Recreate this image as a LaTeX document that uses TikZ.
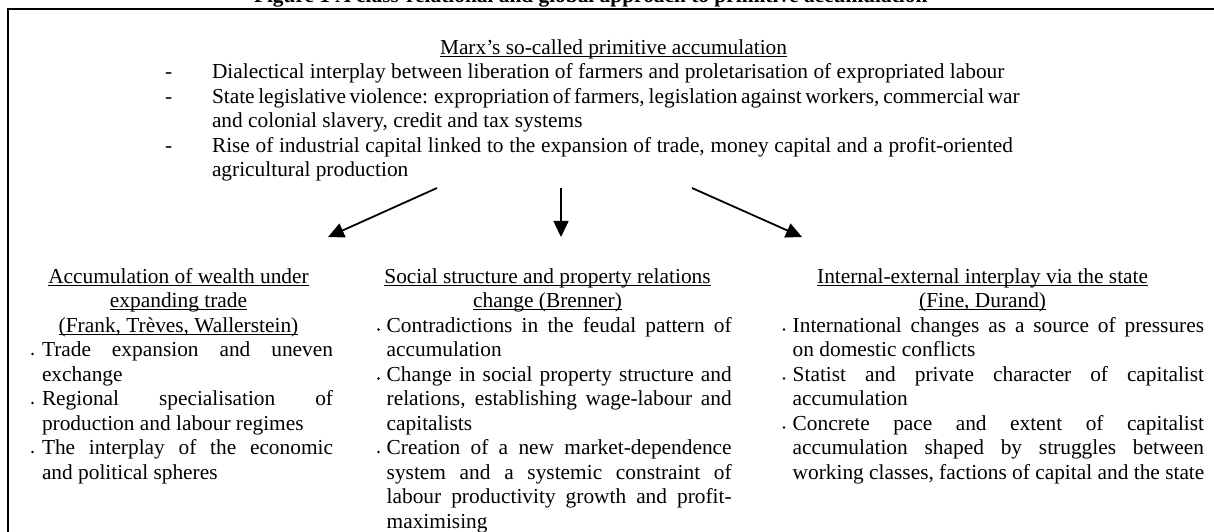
\documentclass[tikz,border=0pt]{standalone}
\usepackage{fontspec}
\setmainfont{Liberation Serif}
\usetikzlibrary{arrows.meta}
\newcommand\myJ[2]{\makebox[#1][s]{#2}}
\newcommand\myL[2]{\makebox[#1][l]{#2}}
\begin{document}
\begin{tikzpicture}[x=0.5618pt,y=-0.5618pt,
  txt/.style={anchor=base west,inner sep=0pt,outer sep=0pt,font=\fontsize{12}{14}\selectfont},
  head/.style={anchor=base,inner sep=0pt,outer sep=0pt,font=\fontsize{12}{14}\selectfont},
  ul/.style={line width=0.6pt},
  arr/.style={line width=1pt,-{Triangle[length=9pt,width=8.4pt]}},
  frameline/.style={line width=1.4pt},
  bdot/.style={fill=black}]
\useasboundingbox (0,0) rectangle (1214,531);
\clip (0,0) rectangle (1214,531);
% title (cut off at the top)
\node[txt,font=\bfseries\fontsize{12}{14}\selectfont] (title) at (254,2.5) {Figure 1 A class-relational and global approach to primitive accumulation};
% frame
\draw[frameline] (8,640) -- (8,9) -- (1300,9);
% top block
\node[head] (marx) at (613.5,54) {Marx’s so-called primitive accumulation};
\draw[ul] ([yshift=-1.3pt]marx.base west) -- ([yshift=-1.3pt]marx.base east);
\node[txt] (d1) at (165,78.5) {-};
\node[txt] (d2) at (165,103) {-};
\node[txt] (d3) at (165,152) {-};
\node[txt] (t1) at (212,78.5) {\myL{450pt}{Dialectical interplay between liberation of farmers and proletarisation of expropriated labour}};
\node[txt] (t2) at (212,103) {\myJ{450pt}{State legislative violence: expropriation of farmers, legislation against workers, commercial war}};
\node[txt] (t3) at (212,127.5) {\myL{450pt}{and colonial slavery, credit and tax systems}};
\node[txt] (t4) at (212,152) {\myJ{450pt}{Rise of industrial capital linked to the expansion of trade, money capital and a profit-oriented}};
\node[txt] (t5) at (212,176.5) {\myL{450pt}{agricultural production}};
% arrows
\coordinate (a1s) at (437,188);
\coordinate (a1e) at (328,237);
\coordinate (a2s) at (561,188);
\coordinate (a2e) at (561,237);
\coordinate (a3s) at (692,188);
\coordinate (a3e) at (802,237);
\draw[arr] (a1s) -- (a1e);
\draw[arr] (a2s) -- (a2e);
\draw[arr] (a3s) -- (a3e);
% column 1
\node[head] (h11) at (178.5,283) {Accumulation of wealth under};
\node[head] (h12) at (178.5,307.5) {expanding trade};
\node[head] (h13) at (178.5,332) {(Frank, Trèves, Wallerstein)};
\foreach \h in {h11,h12,h13}
  \draw[ul] ([yshift=-1.3pt]\h.base west) -- ([yshift=-1.3pt]\h.base east);
\node[txt] (c11) at (42,356.5) {\myJ{163.5pt}{Trade expansion and uneven}};
\node[txt] (c12) at (42,381) {\myL{163.5pt}{exchange}};
\node[txt] (c13) at (42,405.5) {\myJ{163.5pt}{Regional specialisation of}};
\node[txt] (c14) at (42,430) {\myL{163.5pt}{production and labour regimes}};
\node[txt] (c15) at (42,454.5) {\myJ{163.5pt}{The interplay of the economic}};
\node[txt] (c16) at (42,479) {\myL{163.5pt}{and political spheres}};
\foreach \yy in {356.5,405.5,454.5}
  \fill[bdot] (32.5,\yy-2.5) circle (0.75pt);
% column 2
\node[head] (h21) at (547.5,283) {Social structure and property relations};
\node[head] (h22) at (547.5,307.5) {change (Brenner)};
\foreach \h in {h21,h22}
  \draw[ul] ([yshift=-1.3pt]\h.base west) -- ([yshift=-1.3pt]\h.base east);
\node[txt] (c21) at (386.7,332) {\myJ{193.8pt}{Contradictions in the feudal pattern of}};
\node[txt] (c22) at (386.7,356.5) {\myL{193.8pt}{accumulation}};
\node[txt] (c23) at (386.7,381) {\myJ{193.8pt}{Change in social property structure and}};
\node[txt] (c24) at (386.7,405.5) {\myJ{193.8pt}{relations, establishing wage-labour and}};
\node[txt] (c25) at (386.7,430) {\myL{193.8pt}{capitalists}};
\node[txt] (c26) at (386.7,454.5) {\myJ{193.8pt}{Creation of a new market-dependence}};
\node[txt] (c27) at (386.7,479) {\myJ{193.8pt}{system and a systemic constraint of}};
\node[txt] (c28) at (386.7,503.5) {\myJ{193.8pt}{labour productivity growth and profit-}};
\node[txt] (c29) at (386.7,528) {\myL{193.8pt}{maximising}};
\foreach \yy in {332,381,454.5}
  \fill[bdot] (378.5,\yy-2.5) circle (0.75pt);
% column 3
\node[head] (h31) at (982.6,283) {Internal-external interplay via the state};
\node[head] (h32) at (982.6,307.5) {(Fine, Durand)};
\foreach \h in {h31,h32}
  \draw[ul] ([yshift=-1.3pt]\h.base west) -- ([yshift=-1.3pt]\h.base east);
\node[txt] (c31) at (792.7,332) {\myJ{231.1pt}{International changes as a source of pressures}};
\node[txt] (c32) at (792.7,356.5) {\myL{231.1pt}{on domestic conflicts}};
\node[txt] (c33) at (792.7,381) {\myJ{231.1pt}{Statist and private character of capitalist}};
\node[txt] (c34) at (792.7,405.5) {\myL{231.1pt}{accumulation}};
\node[txt] (c35) at (792.7,430) {\myJ{231.1pt}{Concrete pace and extent of capitalist}};
\node[txt] (c36) at (792.7,454.5) {\myJ{231.1pt}{accumulation shaped by struggles between}};
\node[txt] (c37) at (792.7,479) {\myL{231.1pt}{working classes, factions of capital and the state}};
\foreach \yy in {332,381,430}
  \fill[bdot] (784,\yy-2.5) circle (0.75pt);
\end{tikzpicture}
\end{document}
